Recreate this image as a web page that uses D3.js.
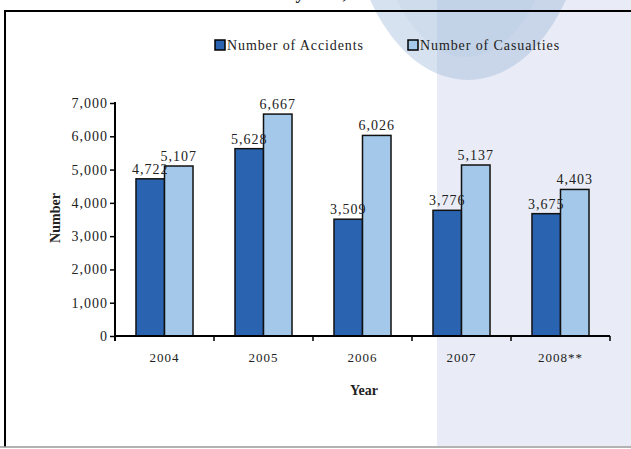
<!DOCTYPE html>
<html>
<head>
<meta charset="utf-8">
<script src="https://cdn.jsdelivr.net/npm/d3@7"></script>
<style>
  body { margin: 0; background: #fff; }
  svg text { font-family: "Liberation Serif", "Times New Roman", serif; fill: #222; }
</style>
</head>
<body>
<svg id="chart" width="631" height="449"></svg>
<script>
// Chart data
const years = ["2004", "2005", "2006", "2007", "2008**"];
const seriesNames = ["Number of Accidents", "Number of Casualties"];
const accidents = [4722, 5628, 3509, 3776, 3675];
const casualties = [5107, 6667, 6026, 5137, 4403];
const yTicks = [0, 1000, 2000, 3000, 4000, 5000, 6000, 7000];

const colors = ["#2a64b0", "#a3c8ea"];

const svg = d3.select("#chart");
const W = 631, H = 449;

// Background decoration: lavender side panel and the faded curve
svg.append("rect").attr("x", 437).attr("y", 0).attr("width", W - 437).attr("height", 446)
  .attr("fill", "#e9ecf6");
svg.append("ellipse").attr("cx", 468).attr("cy", -110).attr("rx", 120).attr("ry", 190)
  .attr("fill", "rgb(150,180,215)").attr("fill-opacity", 0.38);
svg.append("ellipse").attr("cx", 466).attr("cy", -110).attr("rx", 92).attr("ry", 167)
  .attr("fill", "rgb(150,180,215)").attr("fill-opacity", 0.12);

// Cut-off title from the page above
svg.append("text").attr("x", 300).attr("y", -1).attr("text-anchor", "middle")
  .style("font-size", "18px").style("font-weight", "bold")
  .text("Road Accidents by Year, 2004 - 2008");

// Frame lines
svg.append("line").attr("x1", 4).attr("x2", W).attr("y1", 11).attr("y2", 11)
  .attr("stroke", "#000").attr("stroke-width", 2);
svg.append("line").attr("x1", 5).attr("x2", 5).attr("y1", 10).attr("y2", 447)
  .attr("stroke", "#000").attr("stroke-width", 2);
svg.append("line").attr("x1", 0).attr("x2", W).attr("y1", 447).attr("y2", 447)
  .attr("stroke", "#999").attr("stroke-width", 1.5);

// Scales
const plotLeft = 115, plotRight = 610, plotTop = 103, plotBottom = 336;
const x0 = d3.scaleBand().domain(years).range([plotLeft, plotRight])
  .paddingInner(0.424).paddingOuter(0.212);
const x1 = d3.scaleBand().domain(seriesNames).range([0, x0.bandwidth()]);
const y = d3.scaleLinear().domain([0, 7000]).range([plotBottom, plotTop]);

const rows = years.map((yr, i) => ({ year: yr, values: [accidents[i], casualties[i]] }));

// Bars
const groups = svg.append("g").selectAll("g").data(rows).join("g")
  .attr("transform", d => `translate(${x0(d.year)},0)`);

groups.selectAll("rect")
  .data(d => d.values.map((v, k) => ({ key: seriesNames[k], value: v, k })))
  .join("rect")
  .attr("x", d => x1(d.key))
  .attr("y", d => y(d.value))
  .attr("width", x1.bandwidth())
  .attr("height", d => plotBottom - y(d.value))
  .attr("fill", d => colors[d.k])
  .attr("stroke", "#111")
  .attr("stroke-width", 1.5);

// Value labels
groups.selectAll("text.val")
  .data(d => d.values.map((v, k) => ({ key: seriesNames[k], value: v })))
  .join("text")
  .attr("class", "val")
  .attr("x", d => x1(d.key) + x1.bandwidth() / 2)
  .attr("y", d => y(d.value) - 5)
  .attr("text-anchor", "middle")
  .style("font-size", "14px").style("letter-spacing", "1px")
  .text(d => d3.format(",")(d.value));

// Y axis
const yAxis = svg.append("g").attr("transform", `translate(${plotLeft},0)`)
  .call(d3.axisLeft(y).tickValues(yTicks).tickFormat(d3.format(",")).tickSize(5).tickSizeOuter(0));
yAxis.select(".domain").remove();
yAxis.selectAll(".tick line").attr("stroke", "#000").attr("stroke-width", 1.5);
yAxis.selectAll(".tick text").attr("x", -7)
  .style("font-size", "14px").style("letter-spacing", "1px").style("font-family", "Liberation Serif");
svg.append("line").attr("x1", plotLeft).attr("x2", plotLeft)
  .attr("y1", plotTop - 1).attr("y2", plotBottom + 5)
  .attr("stroke", "#000").attr("stroke-width", 2);

// X axis
const xAxis = svg.append("g").attr("transform", `translate(0,${plotBottom})`)
  .call(d3.axisBottom(x0).tickSize(0).tickPadding(17));
xAxis.select(".domain").remove();
xAxis.selectAll(".tick text")
  .style("font-size", "13px").style("letter-spacing", "1px").style("font-family", "Liberation Serif");
svg.append("line").attr("x1", plotLeft).attr("x2", plotRight)
  .attr("y1", plotBottom).attr("y2", plotBottom)
  .attr("stroke", "#000").attr("stroke-width", 2);
svg.append("g").selectAll("line")
  .data(years.map((yr, i) => i + 1))
  .join("line")
  .attr("x1", i => plotLeft + i * x0.step())
  .attr("x2", i => plotLeft + i * x0.step())
  .attr("y1", plotBottom).attr("y2", plotBottom + 5)
  .attr("stroke", "#000").attr("stroke-width", 1.5);

// Axis titles
svg.append("text").attr("transform", "translate(60,218) rotate(-90)")
  .attr("text-anchor", "middle").style("font-size", "14px").style("font-weight", "bold")
  .text("Number");
svg.append("text").attr("x", 364).attr("y", 395)
  .attr("text-anchor", "middle").style("font-size", "14px").style("font-weight", "bold")
  .text("Year");

// Legend
const legendX = [215, 408];
const legend = svg.append("g").selectAll("g").data(seriesNames).join("g")
  .attr("transform", (d, i) => `translate(${legendX[i]},40)`);
legend.append("rect").attr("width", 10).attr("height", 10)
  .attr("fill", (d, i) => colors[i]).attr("stroke", "#000").attr("stroke-width", 1.5);
legend.append("text").attr("x", 12).attr("y", 10)
  .style("font-size", "14px").style("letter-spacing", "0.9px")
  .text(d => d);
</script>
</body>
</html>
